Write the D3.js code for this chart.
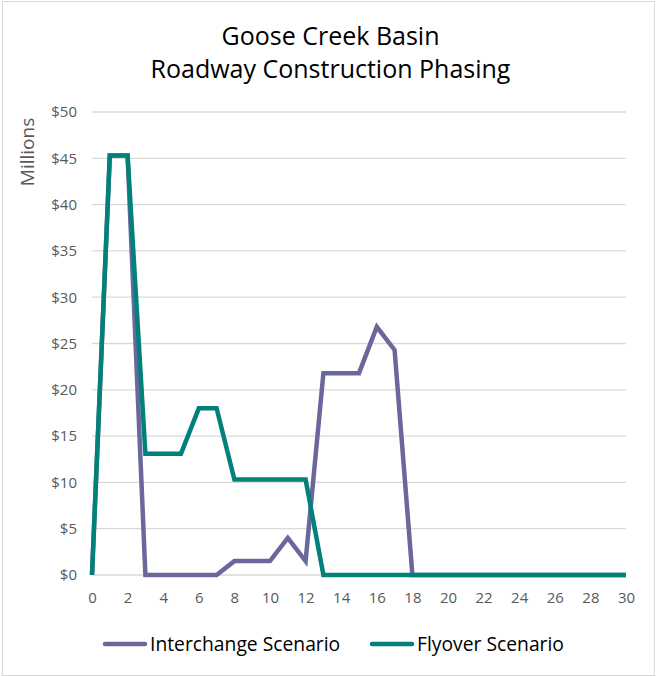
<!DOCTYPE html>
<html>
<head>
<meta charset="utf-8">
<script src="https://cdn.jsdelivr.net/npm/d3@7"></script>
<style>
  body { margin: 0; background: #fff; }
  text { font-family: "Open Sans", Lato, sans-serif; }
</style>
</head>
<body>
<div id="chart"></div>
<script>
// data
var years = d3.range(0, 31);
var interchange = [0, 45.3, 45.3, 0, 0, 0, 0, 0, 1.5, 1.5, 1.5, 4.0, 1.5, 21.8, 21.8, 21.8, 26.8, 24.3,
                   0, 0, 0, 0, 0, 0, 0, 0, 0, 0, 0, 0, 0];
var flyover = [0, 45.3, 45.3, 13.1, 13.1, 13.1, 18.0, 18.0, 10.3, 10.3, 10.3, 10.3, 10.3, 0, 0, 0, 0, 0,
               0, 0, 0, 0, 0, 0, 0, 0, 0, 0, 0, 0, 0];
var seriesNames = ["Interchange Scenario", "Flyover Scenario"];
var seriesColors = ["#6a679c", "#00817a"];
var yTicks = [0, 5, 10, 15, 20, 25, 30, 35, 40, 45, 50];
var xTicks = d3.range(0, 31, 2);
var titleLines = ["Goose Creek Basin", "Roadway Construction Phasing"];

var width = 657, height = 677;
var margin = {top: 112, right: 31, bottom: 102, left: 92};

var svg = d3.select("#chart")
  .append("svg")
    .attr("width", width)
    .attr("height", height);

// chart frame
svg.append("rect")
    .attr("x", 2.5).attr("y", 1.5)
    .attr("width", width - 5).attr("height", height - 3)
    .attr("fill", "#fff")
    .attr("stroke", "#d9d9d9");

var xScale = d3.scaleLinear().domain([0, 30]).range([margin.left, width - margin.right]);
var yScale = d3.scaleLinear().domain([0, 50]).range([height - margin.bottom, margin.top]);

// title
svg.selectAll(".title").data(titleLines).enter()
  .append("text")
    .attr("class", "title")
    .attr("x", 330.5)
    .attr("y", function(d, i) { return 45 + i * 33; })
    .attr("text-anchor", "middle")
    .attr("font-size", 25)
    .attr("fill", "#000")
    .text(function(d) { return d; });

// gridlines
svg.append("g").selectAll("line").data(yTicks).enter()
  .append("line")
    .attr("x1", xScale(0)).attr("x2", xScale(30))
    .attr("y1", function(d) { return yScale(d); })
    .attr("y2", function(d) { return yScale(d); })
    .attr("stroke", "#d9d9d9")
    .attr("stroke-width", 1.3);

// y axis
var yAxis = svg.append("g")
    .attr("transform", "translate(" + margin.left + ",0)")
    .call(d3.axisLeft(yScale).tickValues(yTicks).tickSize(0).tickPadding(15)
      .tickFormat(function(d) { return "$" + d; }));
yAxis.select(".domain").remove();
yAxis.selectAll("text").attr("font-size", 15).attr("fill", "#595959").attr("font-family", "Lato, sans-serif");

// x axis
var xAxis = svg.append("g")
    .attr("transform", "translate(0," + yScale(0) + ")")
    .call(d3.axisBottom(xScale).tickValues(xTicks).tickSize(0).tickPadding(17));
xAxis.select(".domain").remove();
xAxis.selectAll("text").attr("font-size", 15).attr("fill", "#595959").attr("font-family", "Lato, sans-serif");

// y label
svg.append("text")
    .attr("transform", "translate(34,152) rotate(-90)")
    .attr("text-anchor", "middle")
    .attr("font-size", 19)
    .attr("fill", "#595959")
    .text("Millions");

// lines
var valueline = d3.line()
    .x(function(d, i) { return xScale(years[i]); })
    .y(function(d) { return yScale(d); });

[interchange, flyover].forEach(function(s, k) {
  svg.append("path")
    .attr("d", valueline(s))
    .attr("fill", "none")
    .attr("stroke", seriesColors[k])
    .attr("stroke-width", 4.5)
    .attr("stroke-linejoin", "miter");
});

// legend
var legendX = [103, 370];
seriesNames.forEach(function(name, k) {
  svg.append("line")
    .attr("x1", legendX[k] + 2).attr("x2", legendX[k] + 42)
    .attr("y1", 644).attr("y2", 644)
    .attr("stroke", seriesColors[k])
    .attr("stroke-width", 4.5)
    .attr("stroke-linecap", "round");
  svg.append("text")
    .attr("x", legendX[k] + 47)
    .attr("y", 651)
    .attr("font-size", 19.3)
    .attr("fill", "#000")
    .text(name);
});
</script>
</body>
</html>
